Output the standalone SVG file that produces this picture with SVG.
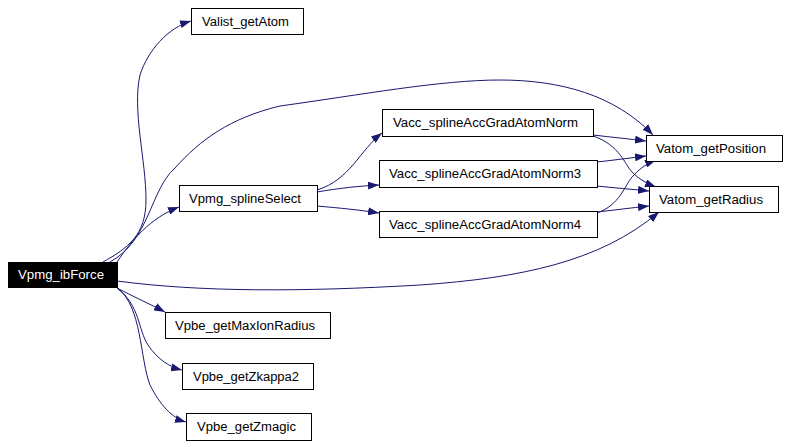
<svg xmlns="http://www.w3.org/2000/svg" width="788" height="447" viewBox="0 0 788 447">
<style>
.n rect{fill:#fff;stroke:#000;stroke-width:1}
.n text{font-family:"Liberation Sans",Arial,sans-serif;font-size:12px;text-anchor:middle;fill:#000}
#ibForce rect{fill:#000}
#ibForce text{fill:#fff}
.e path{fill:none;stroke:#191970;stroke-width:1;marker-end:url(#ah)}
</style>
<defs>
<marker id="ah" markerWidth="11" markerHeight="8" refX="11" refY="4" orient="auto" markerUnits="userSpaceOnUse">
<path d="M0,0 L11,4 L0,8 z" fill="#191970"/>
</marker>
</defs>
<rect width="788" height="447" fill="#fff"/>
<g class="e" id="edges">
<path d="M103,262 C128,248 146,235 146,200 C146,160 132,110 140,75 C148,50 168,28 191,21"/>
<path d="M117,262 C132,240 150,218 179,207"/>
<path d="M110,262 C150,240 150,190 175,168 C200,140 230,118 280,106 C360,95 440,80 500,80 C560,80 615,95 653,135"/>
<path d="M117,281 C200,292 300,292 420,285 C520,278 600,262 659,212"/>
<path d="M117,288 C132,296 150,304 165,312"/>
<path d="M117,288 C140,305 138,330 148,345 C158,360 170,367 182,370"/>
<path d="M117,288 C142,305 140,360 150,385 C160,405 172,418 186,422"/>
<path d="M317,190 C350,180 360,150 382,133"/>
<path d="M317,192 C340,188 360,186 379,185"/>
<path d="M317,206 C340,208 360,210 379,213"/>
<path d="M593,135 C610,137 630,139 646,141"/>
<path d="M593,136 C620,145 625,165 632,172 C640,180 648,184 656,187"/>
<path d="M597,162 C615,160 630,158 646,156"/>
<path d="M597,186 C615,188 630,189 649,191"/>
<path d="M597,213 C620,205 625,185 632,177 C640,168 648,163 656,160"/>
<path d="M597,212 C615,210 630,208 649,206"/>
</g>
<g class="n" id="ibForce"><rect x="8.5" y="262.5" width="109" height="25"/><text x="61" y="279" textLength="86" lengthAdjust="spacingAndGlyphs">Vpmg_ibForce</text></g>
<g class="n" id="Valist_getAtom"><rect x="191.5" y="8.5" width="112" height="26"/><text x="245.5" y="25.5" textLength="87" lengthAdjust="spacingAndGlyphs">Valist_getAtom</text></g>
<g class="n" id="Vpmg_splineSelect"><rect x="179.5" y="185.5" width="138" height="26"/><text x="245" y="202.5" textLength="112" lengthAdjust="spacingAndGlyphs">Vpmg_splineSelect</text></g>
<g class="n" id="Norm"><rect x="382.5" y="109.5" width="211" height="27"/><text x="485.5" y="127" textLength="185" lengthAdjust="spacingAndGlyphs">Vacc_splineAccGradAtomNorm</text></g>
<g class="n" id="Norm3"><rect x="379.5" y="160.5" width="218" height="27"/><text x="485" y="178" textLength="192" lengthAdjust="spacingAndGlyphs">Vacc_splineAccGradAtomNorm3</text></g>
<g class="n" id="Norm4"><rect x="379.5" y="211.5" width="218" height="26"/><text x="485" y="228.5" textLength="192" lengthAdjust="spacingAndGlyphs">Vacc_splineAccGradAtomNorm4</text></g>
<g class="n" id="Vatom_getPosition"><rect x="646.5" y="135.5" width="136" height="26"/><text x="711" y="152.5" textLength="110" lengthAdjust="spacingAndGlyphs">Vatom_getPosition</text></g>
<g class="n" id="Vatom_getRadius"><rect x="649.5" y="186.5" width="129" height="26"/><text x="711" y="203.5" textLength="104" lengthAdjust="spacingAndGlyphs">Vatom_getRadius</text></g>
<g class="n" id="Vpbe_getMaxIonRadius"><rect x="165.5" y="312.5" width="165" height="26"/><text x="245" y="329.5" textLength="140" lengthAdjust="spacingAndGlyphs">Vpbe_getMaxIonRadius</text></g>
<g class="n" id="Vpbe_getZkappa2"><rect x="182.5" y="363.5" width="131" height="26"/><text x="246" y="380.5" textLength="106" lengthAdjust="spacingAndGlyphs">Vpbe_getZkappa2</text></g>
<g class="n" id="Vpbe_getZmagic"><rect x="186.5" y="413.5" width="125" height="27"/><text x="246.5" y="431" textLength="99" lengthAdjust="spacingAndGlyphs">Vpbe_getZmagic</text></g>
</svg>
